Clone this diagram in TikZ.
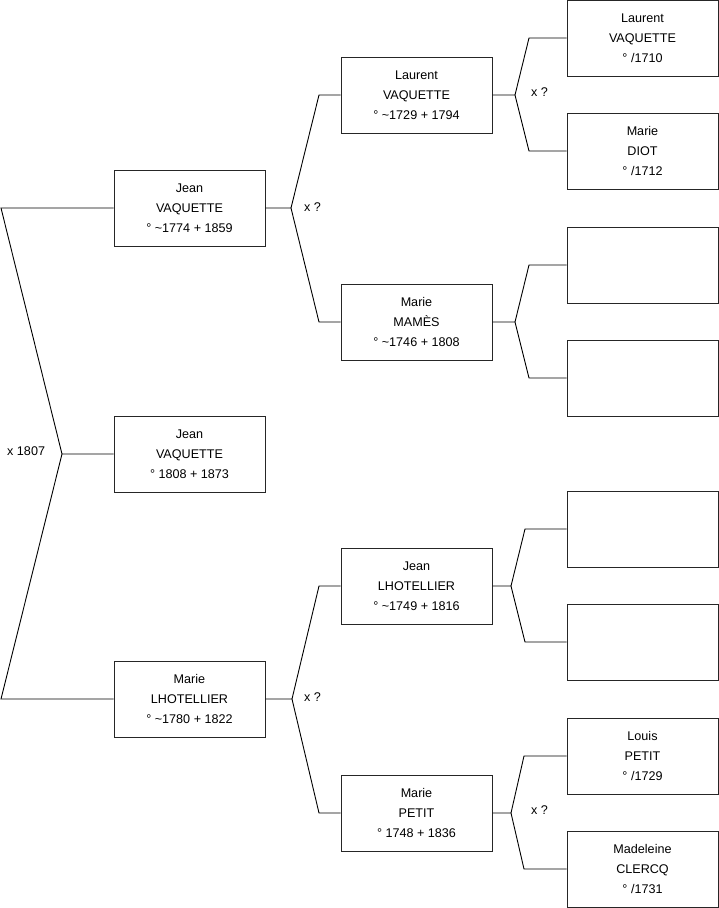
\documentclass[tikz,border=0pt]{standalone}
\usepackage{fontspec}
\setmainfont{Liberation Sans}
\begin{document}
\begin{tikzpicture}[x=1pt,y=-1pt,
  person/.style={draw=black!85,line width=1pt,rectangle,minimum width=151pt,minimum height=76pt,inner sep=0pt,align=center,font=\fontsize{12.6}{20}\selectfont},
  link/.style={draw=black,line width=0.9pt},
  lbl/.style={anchor=west,inner sep=0pt,font=\fontsize{12.6}{20}\selectfont}]
\useasboundingbox (0,0) rectangle (719,908);
% generation 0 and 1
\node[person] (p0) at (189.5,454) {Jean\\VAQUETTE\\° 1808 + 1873};
\node[person] (p1) at (189.5,208) {Jean\\VAQUETTE\\° \textasciitilde1774 + 1859};
\node[person] (p2) at (189.5,699) {Marie\\LHOTELLIER\\° \textasciitilde1780 + 1822};
% generation 2
\node[person] (p3) at (416.5,95) {Laurent\\VAQUETTE\\° \textasciitilde1729 + 1794};
\node[person] (p4) at (416.5,322) {Marie\\MAMÈS\\° \textasciitilde1746 + 1808};
\node[person] (p5) at (416.5,586) {Jean\\LHOTELLIER\\° \textasciitilde1749 + 1816};
\node[person] (p6) at (416.5,813) {Marie\\PETIT\\° 1748 + 1836};
% generation 3
\node[person] (p7) at (642.5,38) {Laurent\\VAQUETTE\\° /1710};
\node[person] (p8) at (642.5,151) {Marie\\DIOT\\° /1712};
\node[person] (p9) at (642.5,265) {};
\node[person] (p10) at (642.5,378) {};
\node[person] (p11) at (642.5,529) {};
\node[person] (p12) at (642.5,642) {};
\node[person] (p13) at (642.5,756) {Louis\\PETIT\\° /1729};
\node[person] (p14) at (642.5,869) {Madeleine\\CLERCQ\\° /1731};
% fork points
\coordinate (f0) at (62,454);
\coordinate (f0a) at (1,208);
\coordinate (f0b) at (1,699);
\coordinate (f1) at (291,208);
\coordinate (f1a) at (319,95);
\coordinate (f1b) at (319,322);
\coordinate (f2) at (292,699);
\coordinate (f2a) at (319,586);
\coordinate (f2b) at (319,813);
\coordinate (f3) at (515,95);
\coordinate (f3a) at (529,38);
\coordinate (f3b) at (529,151);
\coordinate (f4) at (515,322);
\coordinate (f4a) at (529,265);
\coordinate (f4b) at (529,378);
\coordinate (f5) at (511,586);
\coordinate (f5a) at (525,529);
\coordinate (f5b) at (525,642);
\coordinate (f6) at (511,813);
\coordinate (f6a) at (524,756);
\coordinate (f6b) at (524,869);
% connectors
\draw[link] (p0.west) -- (f0) -- (f0a) -- (p1.west);
\draw[link] (f0) -- (f0b) -- (p2.west);
\draw[link] (p1.east) -- (f1) -- (f1a) -- (p3.west);
\draw[link] (f1) -- (f1b) -- (p4.west);
\draw[link] (p2.east) -- (f2) -- (f2a) -- (p5.west);
\draw[link] (f2) -- (f2b) -- (p6.west);
\draw[link] (p3.east) -- (f3) -- (f3a) -- (p7.west);
\draw[link] (f3) -- (f3b) -- (p8.west);
\draw[link] (p4.east) -- (f4) -- (f4a) -- (p9.west);
\draw[link] (f4) -- (f4b) -- (p10.west);
\draw[link] (p5.east) -- (f5) -- (f5a) -- (p11.west);
\draw[link] (f5) -- (f5b) -- (p12.west);
\draw[link] (p6.east) -- (f6) -- (f6a) -- (p13.west);
\draw[link] (f6) -- (f6b) -- (p14.west);
% marriage labels
\node[lbl] (m0) at (7,451) {x 1807};
\node[lbl] (m1) at (304,207) {x ?};
\node[lbl] (m2) at (304,697) {x ?};
\node[lbl] (m3) at (531,92) {x ?};
\node[lbl] (m6) at (531,810) {x ?};
\end{tikzpicture}
\end{document}
